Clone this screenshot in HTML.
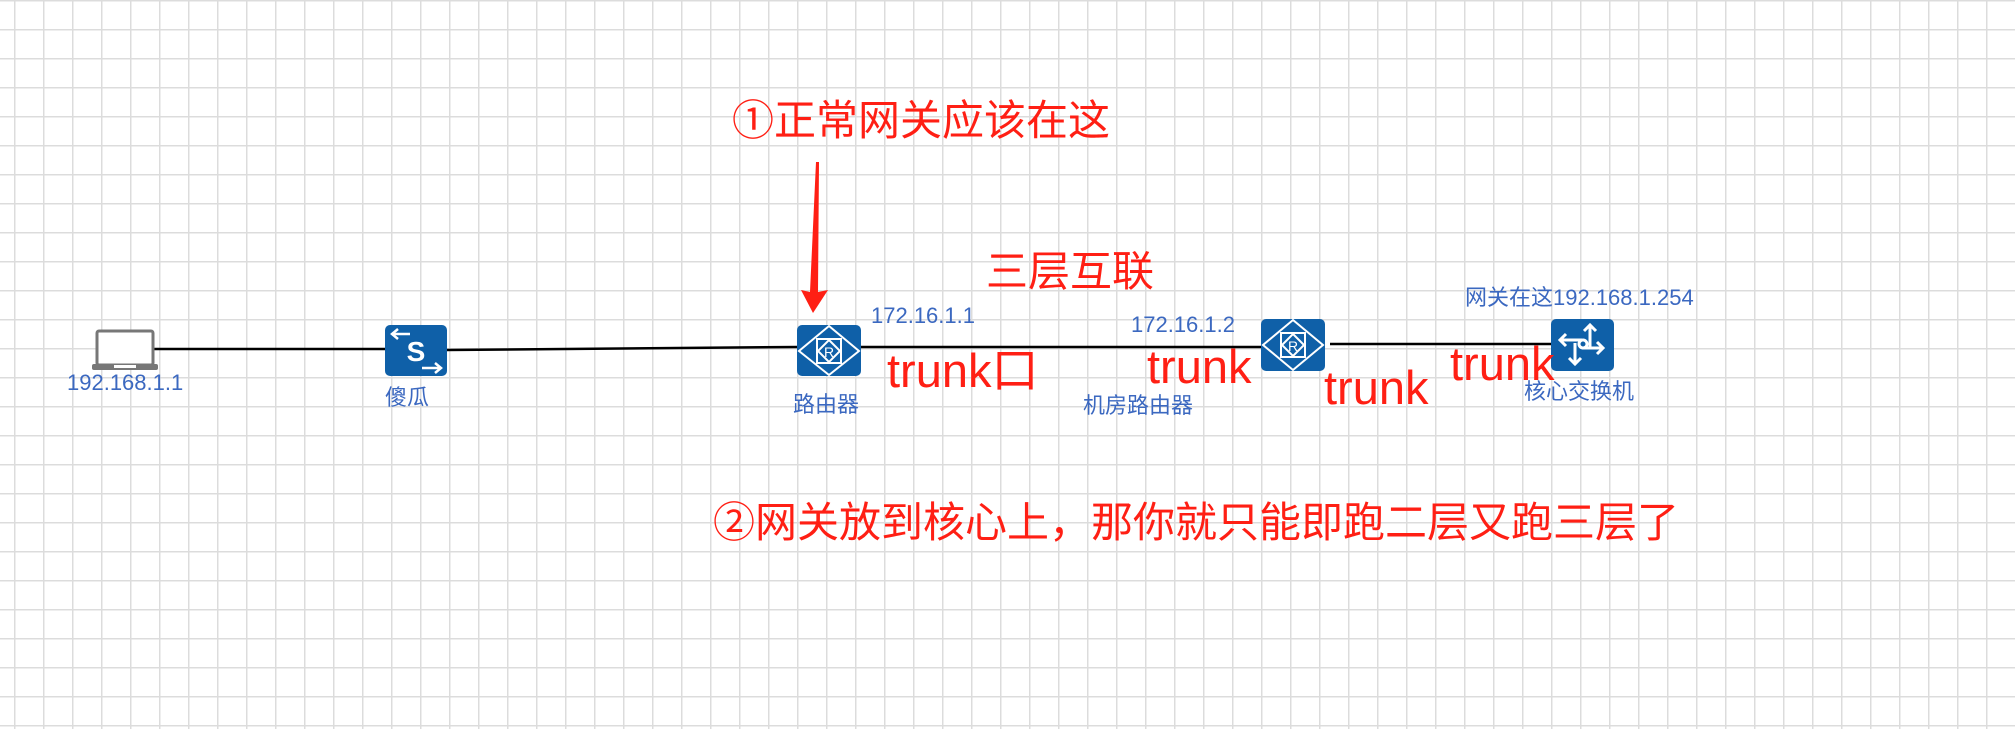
<!DOCTYPE html>
<html><head><meta charset="utf-8">
<style>
html,body{margin:0;padding:0}
body{width:2015px;height:729px;position:relative;overflow:hidden;background:#fff;
background-image:linear-gradient(to right,#dcdcdc 0,#dcdcdc 1.5px,transparent 1.5px),linear-gradient(to bottom,#dcdcdc 0,#dcdcdc 1.5px,transparent 1.5px);
background-size:29px 29px;background-position:14px 0,0 0;}
.t{position:absolute;white-space:nowrap;font-family:"Liberation Sans","Noto Sans CJK SC",sans-serif;line-height:1}
.b{color:#3b68c0;font-size:22px}
.r{color:#ff1f14;font-size:42px}
.k{color:#ff1f14;font-size:47px}
svg{position:absolute;left:0;top:0}
</style></head><body>
<svg width="2015" height="729" viewBox="0 0 2015 729">
<g stroke="#000" stroke-width="2.5" fill="none">
<line x1="154" y1="349" x2="386" y2="349"/>
<line x1="446" y1="350" x2="798" y2="347"/>
<line x1="860" y1="347" x2="1262" y2="347"/>
<line x1="1330" y1="344" x2="1552" y2="344"/>
</g>
<rect x="97" y="331" width="56" height="34" rx="2" fill="#fff" stroke="#777" stroke-width="3"/>
<rect x="92" y="364" width="66" height="6" rx="2" fill="#777"/>
<rect x="114" y="365" width="22" height="3" fill="#fff"/>
<rect x="385" y="325" width="62" height="51" rx="5" fill="#0f60a8"/>
<text x="416" y="361" font-family="Liberation Sans,sans-serif" font-size="28" font-weight="bold" fill="#fff" text-anchor="middle">S</text>
<g stroke="#fff" stroke-width="2.5" fill="none">
<line x1="392" y1="334" x2="410" y2="334"/><polyline points="398,329 392,334 398,339"/>
<line x1="422" y1="368" x2="441" y2="368"/><polyline points="435,363 441,368 435,373"/>
</g>
<rect x="797" y="325" width="64" height="51" rx="5" fill="#0f60a8"/>
<g stroke="#fff" stroke-width="2" fill="none">
<polygon points="829,326 859,351 829,375 799,351"/>
<rect x="817" y="339" width="24" height="24"/>
<polygon points="829,340 840,351 829,362 818,351"/>
</g>
<text x="829" y="357" font-family="Liberation Sans,sans-serif" font-size="14" fill="#fff" text-anchor="middle">R</text>
<rect x="1261" y="319" width="64" height="52" rx="5" fill="#0f60a8"/>
<g stroke="#fff" stroke-width="2" fill="none">
<polygon points="1293,320 1323,345 1293,370 1263,345"/>
<rect x="1281" y="333" width="24" height="24"/>
<polygon points="1293,334 1304,345 1293,356 1282,345"/>
</g>
<text x="1293" y="351" font-family="Liberation Sans,sans-serif" font-size="14" fill="#fff" text-anchor="middle">R</text>
<rect x="1551" y="319" width="63" height="52" rx="5" fill="#0f60a8"/>
<g stroke="#fff" stroke-width="3" fill="none">
<line x1="1590" y1="325" x2="1590" y2="347"/><polyline points="1584,331 1590,325 1596,331"/>
<line x1="1603" y1="348" x2="1582" y2="348"/><polyline points="1597,342 1603,348 1597,354"/>
<line x1="1575" y1="364" x2="1575" y2="343"/><polyline points="1569,358 1575,364 1581,358"/>
<line x1="1560" y1="340" x2="1582" y2="340"/><polyline points="1566,334 1560,340 1566,346"/>
<circle cx="1583" cy="344" r="4"/>
</g>
<polygon points="816,162 819,162 818,292 828,290 813,313 801,290 810,292" fill="#ff1f14"/>
</svg>
<div class="t b" style="left:67px;top:372px">192.168.1.1</div>
<div class="t b" style="left:385px;top:387px">傻瓜</div>
<div class="t b" style="left:793px;top:394px">路由器</div>
<div class="t b" style="left:871px;top:305px">172.16.1.1</div>
<div class="t b" style="left:1131px;top:314px">172.16.1.2</div>
<div class="t b" style="left:1083px;top:395px">机房路由器</div>
<div class="t b" style="left:1465px;top:287px">网关在这192.168.1.254</div>
<div class="t b" style="left:1524px;top:381px">核心交换机</div>
<div class="t r" style="left:732px;top:100px">①正常网关应该在这</div>
<div class="t r" style="left:986px;top:251px">三层互联</div>
<div class="t r" style="left:713px;top:502px">②网关放到核心上，那你就只能即跑二层又跑三层了</div>
<div class="t k" style="left:887px;top:347px">trunk口</div>
<div class="t k" style="left:1147px;top:343px">trunk</div>
<div class="t k" style="left:1324px;top:364px">trunk</div>
<div class="t k" style="left:1450px;top:340px">trunk</div>
</body></html>
